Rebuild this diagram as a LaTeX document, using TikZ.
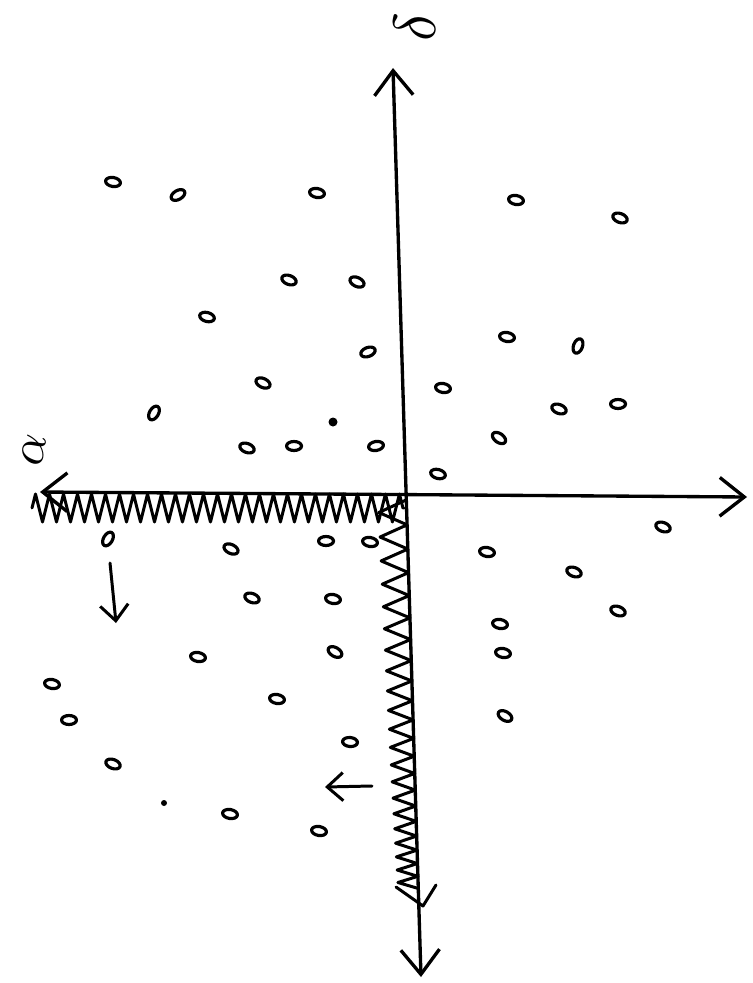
\documentclass[tikz,border=0pt]{standalone}
\usepackage{amsmath}
\usepackage{tikz}
\usetikzlibrary{arrows.meta, decorations.pathmorphing, shapes.geometric}

\begin{document}
\begin{tikzpicture}[x=0.02cm, y=-0.02cm, line cap=round, line join=round,
    axis/.style={line width=1.9pt, {Straight Barb[length=14pt, width=22pt]}-{Straight Barb[length=14pt, width=22pt]}},
    spring/.style={line width=1.7pt},
    blob/.style={draw, ellipse, line width=1.8pt, minimum width=0.3cm, minimum height=0.18cm, inner sep=0pt},
    dot/.style={fill, circle, inner sep=0pt, minimum size=0.18cm},
    flow/.style={line width=1.7pt, -{Straight Barb[length=9pt, width=16pt]}}]
    \useasboundingbox (0,0) rectangle (752,983);

    % axes
    \coordinate (v-top) at (393,68);
    \coordinate (v-bot) at (421,977);
    \coordinate (h-left) at (40,492);
    \coordinate (h-right) at (747,497);
    \draw[axis] (v-bot) -- (v-top);
    \draw[axis] (h-left) -- (h-right);
    \node[rotate=90, scale=3.4] (lab-top) at (415,27) {$\delta$};
    \node[rotate=80, scale=2.8] (lab-left) at (34,450) {$\alpha$};

    % springs along the walls
    \coordinate (hz-a) at (32,508);
    \coordinate (hz-b) at (404,508);
    \draw[spring, decorate, decoration={zigzag, segment length=0.28cm, amplitude=0.28cm}] (hz-a) -- (hz-b);
    \coordinate (vz-a) at (406,500);
    \draw[spring] (vz-a) \foreach \k in {1,...,42}{
        -- ({393+0.0308*(432+12.58*\k-0.0793*\k*\k)-isodd(\k)*(28-0.19*\k)}, {500+12.58*\k-0.0793*\k*\k})};
    \coordinate (vb-l) at (396,887);
    \coordinate (vb-t) at (423,906);
    \coordinate (vb-r) at (436,885);
    \draw[spring] (vb-l) -- (vb-t) -- (vb-r);

    % particles
    \foreach \x/\y/\r [count=\i] in {113/182/-10, 178/195/30, 317/193/-10, 289/280/-20, 357/282/-25,
        207/317/-15, 368/352/20, 263/383/-25, 154/413/60, 247/448/-20, 294/446/0, 376/446/10,
        516/200/-10, 620/218/-20, 507/337/-10, 578/346/70, 443/388/-10, 618/404/0, 559/409/-20,
        499/438/-35, 438/474/-15,
        108/539/60, 231/549/-25, 326/541/0, 370/542/-10, 252/598/-20, 333/599/-10, 198/657/-10,
        335/652/-30, 52/684/-10, 69/720/0, 277/699/-10, 350/742/-5, 113/764/-20, 230/814/-10,
        319/831/-10,
        663/527/-20, 487/552/-10, 574/572/-20, 618/611/-20, 500/624/-10, 503/653/-10, 505/716/-30}
        \node[blob, rotate=\r] (p\i) at (\x,\y) {};
    \node[dot] (d1) at (333,422) {};
    \node[dot, minimum size=0.12cm] (d2) at (164,803) {};

    % drift marks
    \coordinate (da-a) at (110,563);
    \coordinate (da-b) at (116,623);
    \draw[flow] (da-a) -- (da-b);
    \coordinate (la-a) at (372,786);
    \coordinate (la-b) at (325,787);
    \draw[flow] (la-a) -- (la-b);
\end{tikzpicture}
\end{document}
